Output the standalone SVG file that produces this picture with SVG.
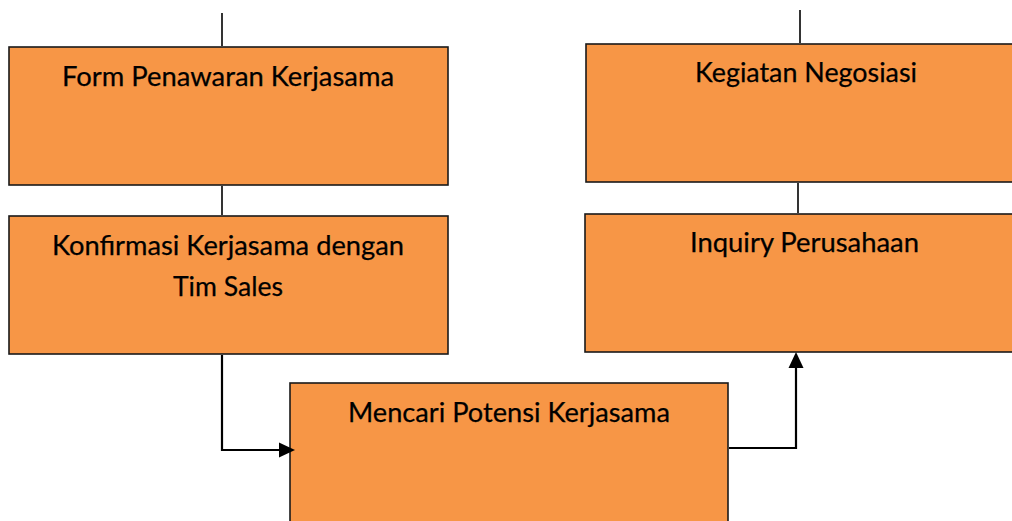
<svg xmlns="http://www.w3.org/2000/svg" width="1012" height="521" viewBox="0 0 1012 521">
<style>
.box{fill:#F79646;stroke:#1a1a1a;stroke-width:1.6}
.lbl{font-family:Lato,"Open Sans","Liberation Sans",sans-serif;font-size:27px;fill:#000;text-anchor:middle;stroke:#000;stroke-width:0.25}
.ln{fill:none;stroke:#000;stroke-width:1.6}
.arr{fill:none;stroke:#000;stroke-width:2.2}
.head{fill:#000}
</style>
<rect width="1012" height="521" fill="#fff"/>
<g id="node-form">
<rect class="box" x="9" y="47" width="439" height="138"/>
<text class="lbl" x="228" y="86" textLength="332" lengthAdjust="spacingAndGlyphs">Form Penawaran Kerjasama</text>
</g>
<g id="node-konfirmasi">
<rect class="box" x="9" y="216" width="439" height="138"/>
<text class="lbl" x="228" y="255" textLength="352" lengthAdjust="spacingAndGlyphs">Konfirmasi Kerjasama dengan</text>
<text class="lbl" x="228" y="296" textLength="110" lengthAdjust="spacingAndGlyphs">Tim Sales</text>
</g>
<g id="node-mencari">
<rect class="box" x="290" y="383" width="438" height="150"/>
<text class="lbl" x="509" y="422" textLength="322" lengthAdjust="spacingAndGlyphs">Mencari Potensi Kerjasama</text>
</g>
<g id="node-inquiry">
<rect class="box" x="585" y="214" width="440" height="138"/>
<text class="lbl" x="804.500" y="252" textLength="229" lengthAdjust="spacingAndGlyphs">Inquiry Perusahaan</text>
</g>
<g id="node-negosiasi">
<rect class="box" x="586" y="44" width="440" height="138"/>
<text class="lbl" x="806" y="82" textLength="222" lengthAdjust="spacingAndGlyphs">Kegiatan Negosiasi</text>
</g>
<g id="connectors">
<line class="ln" x1="222" y1="13" x2="222" y2="46"/>
<line class="ln" x1="800" y1="10" x2="800" y2="43"/>
<line class="ln" x1="222" y1="186" x2="222" y2="215"/>
<line class="ln" x1="798" y1="183" x2="798" y2="213"/>
<polyline class="arr" points="222,355 222,450 281,450"/>
<polygon class="head" points="279,442.500 295,450 279,457.500"/>
<polyline class="arr" points="729,448 796,448 796,366"/>
<polygon class="head" points="788.500,368 796,352 803.500,368"/>
</g>
</svg>
